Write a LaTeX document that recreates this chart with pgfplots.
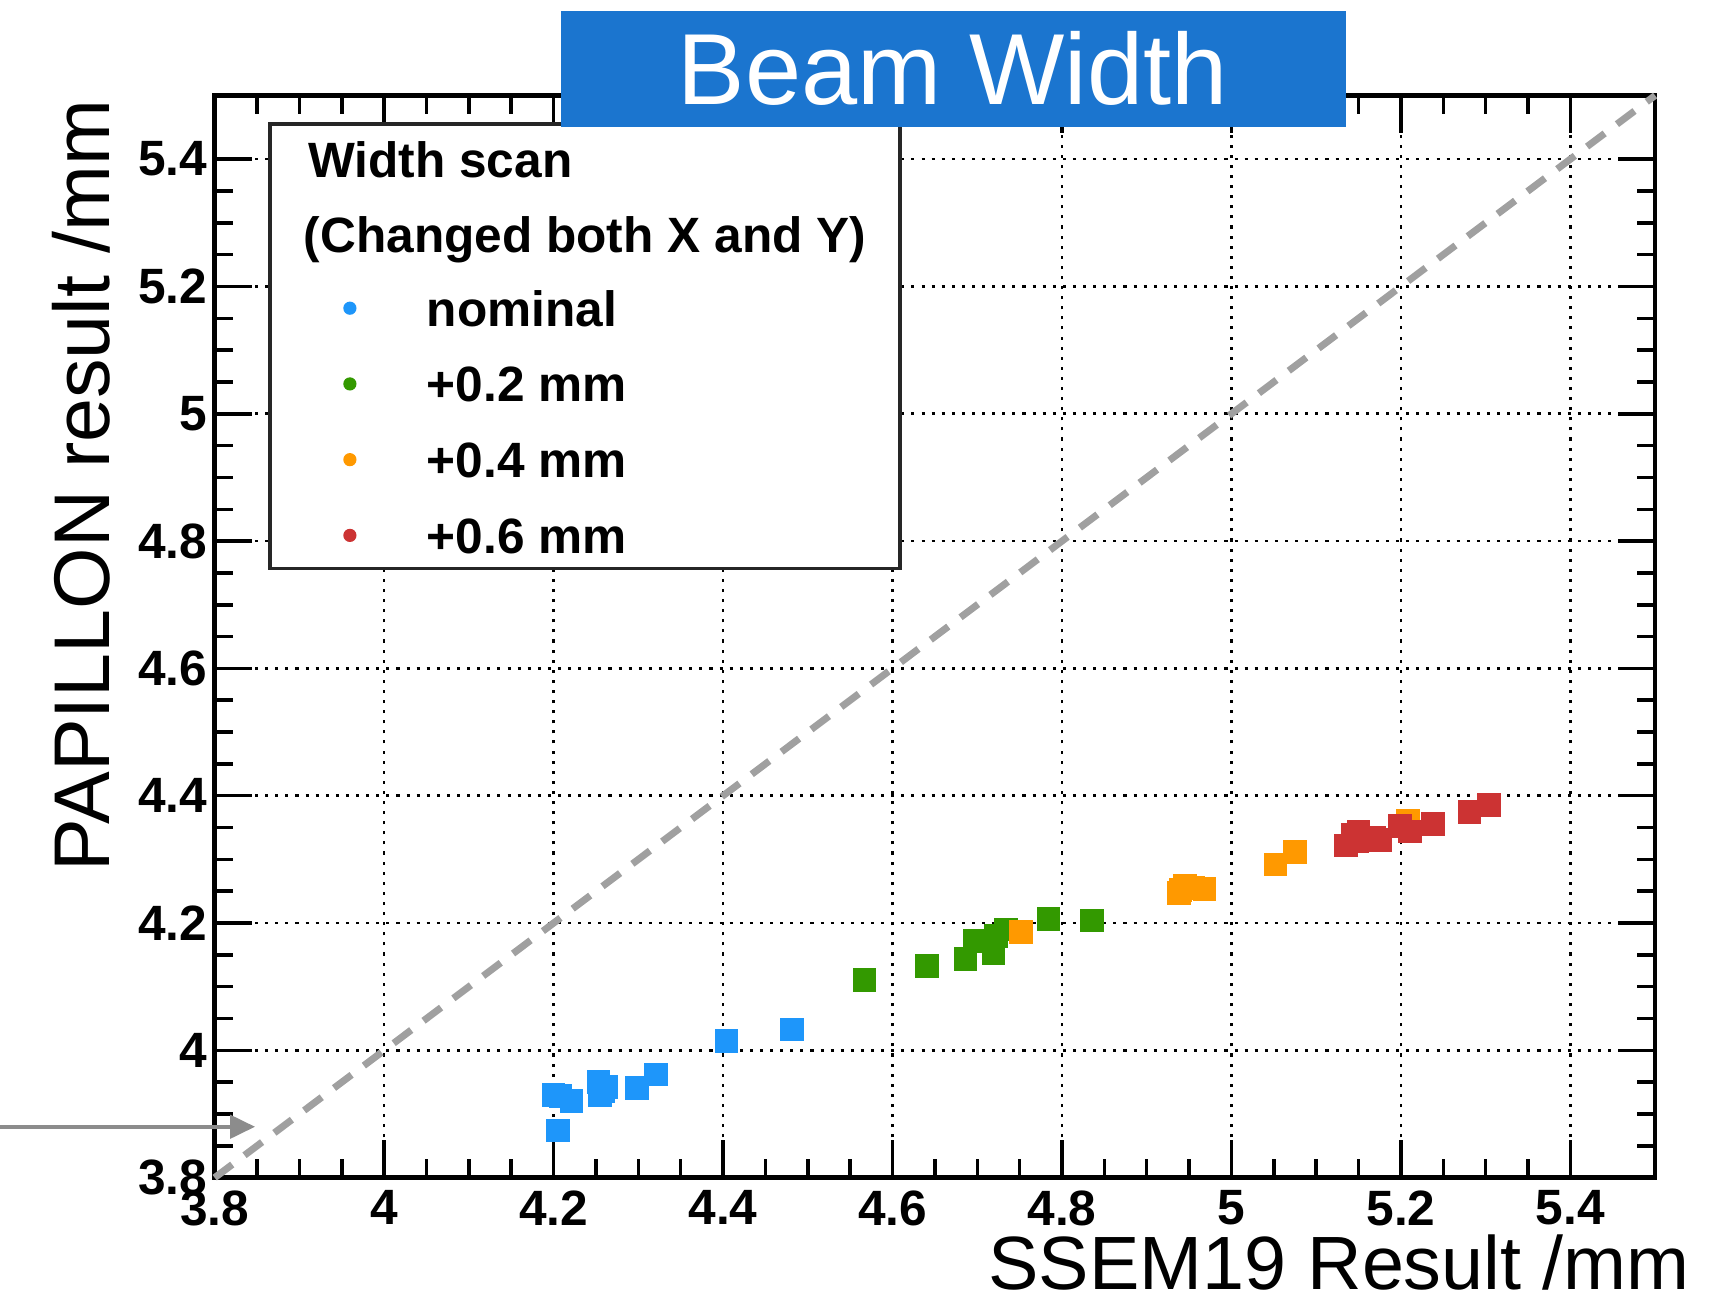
\documentclass[border=0pt]{standalone}
\usepackage{fontspec}
\setmainfont{Liberation Sans}
\usepackage{pgfplots}
\pgfplotsset{compat=1.18}
\usetikzlibrary{arrows.meta}
\definecolor{cblue}{RGB}{30,150,250}
\definecolor{cgreen}{RGB}{51,153,0}
\definecolor{corange}{RGB}{255,153,0}
\definecolor{cred}{RGB}{204,51,51}
\definecolor{ctitle}{RGB}{27,117,207}
\definecolor{cdiag}{RGB}{160,160,160}
\definecolor{carrow}{RGB}{140,140,140}
\begin{document}
\begin{tikzpicture}
\useasboundingbox (-48.9pt,-28.75pt) rectangle (343.1pt,268.25pt);
\begin{axis}[
  scale only axis, width=328.1pt, height=246.5pt,
  xmin=3.8, xmax=5.5, ymin=3.8, ymax=5.5,
  xtick={3.8,4,4.2,4.4,4.6,4.8,5,5.2,5.4},
  ytick={3.8,4,4.2,4.4,4.6,4.8,5,5.2,5.4},
  minor tick num=3,
  tick align=inside, tick pos=both,
  xticklabel pos=lower, yticklabel pos=left,
  major tick length=8.5pt, minor tick length=4.2pt,
  grid=major,
  major grid style={black, line width=0.6pt, dash pattern=on 0.7pt off 1.6pt},
  axis line style={line width=1pt},
  every tick/.style={black, line width=0.8pt},
  ticklabel style={font=\fontsize{11.3}{13}\selectfont\bfseries},
  /pgf/number format/assume math mode=true,
  xticklabel style={yshift=0.6pt},
  yticklabel style={xshift=1.8pt},
  clip=false,
  legend style={at={(0,1)}, anchor=north west, xshift=24.6pt, yshift=-44.15pt,
    draw=none, fill=none, inner sep=0pt, row sep=9.05pt, column sep=11.5pt,
    font=\fontsize{11.3}{13}\selectfont\bfseries,
    nodes={inner sep=0pt, text height=8.2pt, text depth=0pt}},
  legend cell align=left,
  legend image code/.code={\path[draw=none, fill=none] (0pt,-2pt) (12pt,2pt); \fill (6pt,0pt) circle (1.3pt);},
]
\addplot[forget plot, color=cdiag, line width=1.6pt, dash pattern=on 5pt off 3.5pt] coordinates {(3.8,3.8) (5.5,5.5)};
\addplot[only marks, color=cblue, mark=square*, mark size=2.5pt] coordinates {
(4.200,3.930) (4.208,3.928) (4.221,3.921) (4.205,3.874) (4.253,3.950) (4.258,3.936)
(4.262,3.942) (4.255,3.930) (4.298,3.941) (4.321,3.962) (4.404,4.015) (4.481,4.033)};
\addlegendentry{nominal}
\addplot[only marks, color=cgreen, mark=square*, mark size=2.5pt] coordinates {
(4.567,4.110) (4.641,4.132) (4.686,4.143) (4.697,4.172) (4.719,4.152) (4.722,4.180)
(4.734,4.190) (4.784,4.206) (4.835,4.204)};
\addlegendentry{+0.2 mm}
\addplot[only marks, color=corange, mark=square*, mark size=2.5pt] coordinates {
(4.752,4.186) (4.938,4.247) (4.945,4.258) (4.955,4.255) (4.968,4.253) (4.940,4.252)
(5.052,4.292) (5.075,4.312) (5.208,4.360)};
\addlegendentry{+0.4 mm}
\addplot[only marks, color=cred, mark=square*, mark size=2.5pt] coordinates {
(5.135,4.322) (5.143,4.338) (5.150,4.344) (5.148,4.328) (5.168,4.334) (5.175,4.330)
(5.199,4.352) (5.211,4.344) (5.238,4.356) (5.281,4.374) (5.304,4.385)};
\addlegendentry{+0.6 mm}
\draw[fill=white, line width=0.7pt, draw=black!85] (axis cs:3.8653,4.7569) rectangle (axis cs:4.6088,5.4552);
\end{axis}
\node[anchor=base west, inner sep=0pt, font=\fontsize{11.3}{13}\selectfont\bfseries] at (21.1pt,227.75pt) {Width scan};
\node[anchor=base west, inner sep=0pt, font=\fontsize{11.3}{13}\selectfont\bfseries] at (20.1pt,210.75pt) {(Changed both X and Y)};
\fill[ctitle] (78.9pt,239.25pt) rectangle (257.6pt,265.75pt);
\node[anchor=base, inner sep=0pt, text=white, font=\fontsize{23}{26}\selectfont] at (168.1pt,244.5pt) {Beam Width};
\node[rotate=90, anchor=base, inner sep=0pt, font=\fontsize{18}{20}\selectfont] at (-23.9pt,157.6pt) {PAPILLON result /mm};
\node[anchor=base east, inner sep=0pt, font=\fontsize{17.2}{20}\selectfont] at (336.1pt,-25.5pt) {SSEM19 Result /mm};
\draw[carrow, line width=0.9pt, -{Triangle[length=5.7pt,width=5.3pt]}] (-48.9pt,11.6pt) -- (9.2pt,11.6pt);
\end{tikzpicture}
\end{document}
